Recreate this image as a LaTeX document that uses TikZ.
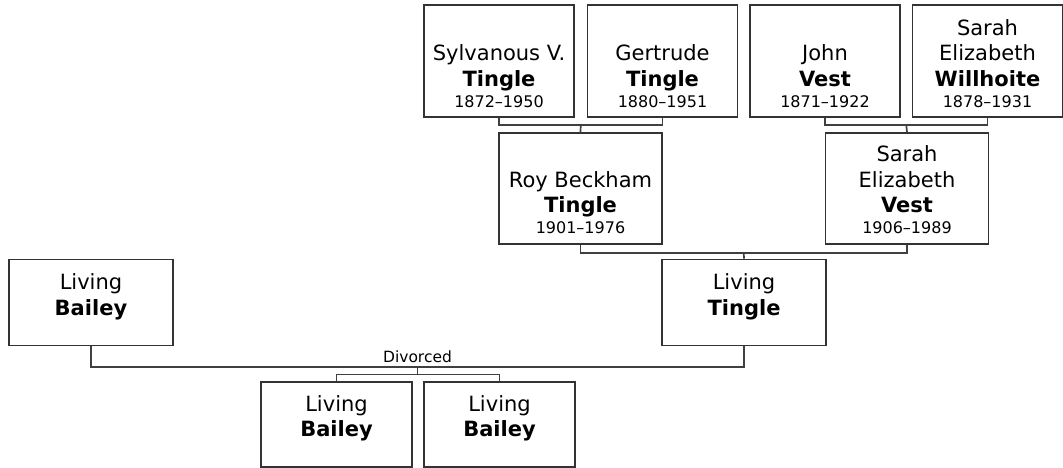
\documentclass[tikz,border=0pt]{standalone}
\usepackage{fontspec}
\setmainfont{DejaVu Sans}
\usetikzlibrary{calc}
\newcommand\lifedates[1]{{\fontsize{16}{19}\selectfont #1}}
\begin{document}
\begin{tikzpicture}[x=1pt,y=-1pt,
  box/.style={draw=black!80, line width=1.7pt, inner sep=0pt, fill=white},
  topbox/.style={box, minimum width=150pt, minimum height=112pt},
  midbox/.style={box, minimum width=163pt, minimum height=111pt},
  livbox/.style={box, minimum width=164pt, minimum height=86pt},
  kidbox/.style={box, minimum width=151pt, minimum height=85pt},
  nametext/.style={anchor=south, inner sep=0pt, align=center, font=\fontsize{21}{25.5}\selectfont},
  conn/.style={draw=black!75, line width=1.7pt},
  smalltext/.style={inner sep=0pt, font=\fontsize{15.5}{18}\selectfont}
]
\useasboundingbox (0,0) rectangle (1063,468);

% grandparents
\node[topbox] (b1) at (499,61) {};
\node[nametext] (t1) at ([yshift=10pt]b1.south) {Sylvanous V.\\\textbf{Tingle}\\[-4.5pt]\lifedates{1872–1950}};
\node[topbox] (b2) at (662.5,61) {};
\node[nametext] (t2) at ([yshift=10pt]b2.south) {Gertrude\\\textbf{Tingle}\\[-4.5pt]\lifedates{1880–1951}};
\node[topbox] (b3) at (825,61) {};
\node[nametext] (t3) at ([yshift=10pt]b3.south) {John\\\textbf{Vest}\\[-4.5pt]\lifedates{1871–1922}};
\node[topbox] (b4) at (987.5,61) {};
\node[nametext] (t4) at ([yshift=10pt]b4.south) {Sarah\\Elizabeth\\\textbf{Willhoite}\\[-4.5pt]\lifedates{1878–1931}};

% parents
\node[midbox] (b5) at (580.5,188.5) {};
\node[nametext] (t5) at ([yshift=10.5pt]b5.south) {Roy Beckham\\\textbf{Tingle}\\[-4.5pt]\lifedates{1901–1976}};
\node[midbox] (b6) at (907,188.5) {};
\node[nametext] (t6) at ([yshift=10.5pt]b6.south) {Sarah\\Elizabeth\\\textbf{Vest}\\[-4.5pt]\lifedates{1906–1989}};

% couple
\node[livbox] (b7) at (744,302.5) {};
\node[nametext] (t7) at ([yshift=10pt]b7.south) {Living\\\textbf{Tingle}\\[-4.5pt]\mbox{}};
\node[livbox] (b8) at (91,302.5) {};
\node[nametext] (t8) at ([yshift=10pt]b8.south) {Living\\\textbf{Bailey}\\[-4.5pt]\mbox{}};

% children
\node[kidbox] (b9) at (336.5,424.5) {};
\node[nametext] (t9) at ([yshift=10pt]b9.south) {Living\\\textbf{Bailey}\\[-4.5pt]\mbox{}};
\node[kidbox] (b10) at (499.5,424.5) {};
\node[nametext] (t10) at ([yshift=10pt]b10.south) {Living\\\textbf{Bailey}\\[-4.5pt]\mbox{}};

% connectors
\path ($(b1.south)!.5!(b2.south)$) ++(0,7) coordinate (j1);
\draw[conn] (b1.south) |- (j1) -| (b2.south);
\draw[conn] (j1) -- (b5.north);

\path ($(b3.south)!.5!(b4.south)$) ++(0,7) coordinate (j2);
\draw[conn] (b3.south) |- (j2) -| (b4.south);
\draw[conn] (j2) -- (b6.north);

\path ($(b5.south)!.5!(b6.south)$) ++(0,8) coordinate (j3);
\draw[conn] (b5.south) |- (j3) -| (b6.south);
\draw[conn] (j3) -- (b7.north);

\path ($(b8.south)!.5!(b7.south)$) ++(0,20.5) coordinate (j4);
\draw[conn] (b8.south) |- (j4) -| (b7.south);
\node[smalltext, anchor=base] (dv) at ([yshift=4.5pt]j4) {Divorced};
\path (j4) ++(0,7.5) coordinate (j5);
\draw[conn] (j4) -- (j5);
\draw[conn] (b9.north) |- (j5) -| (b10.north);
\end{tikzpicture}
\end{document}
